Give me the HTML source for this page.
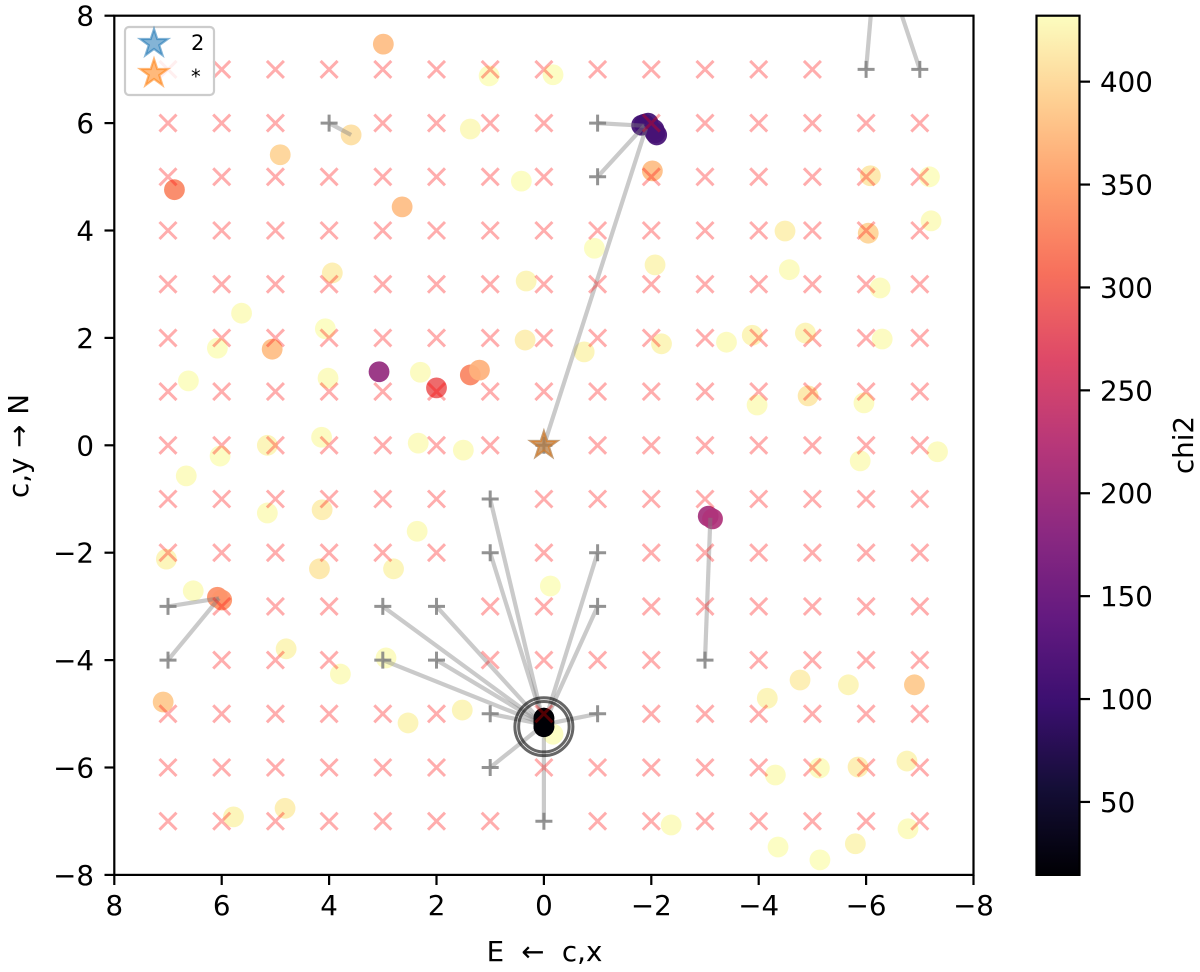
<!DOCTYPE html>
<html>
<head>
<meta charset="utf-8">
<title>chi2 scatter</title>
<style>
html,body{margin:0;padding:0;background:#fff;}
svg{display:block;}
text{font-family:"DejaVu Sans","Liberation Sans",sans-serif;fill:#000;}
</style>
</head>
<body>
<svg id="chart" xmlns="http://www.w3.org/2000/svg" width="1200" height="972" viewBox="0 0 1200 972">
  <defs>
    <clipPath id="plot-clip"><rect x="114.3" y="15.7" width="859.2" height="859.2"/></clipPath>
    <linearGradient id="magma-gradient" x1="0" y1="1" x2="0" y2="0"></linearGradient>
  </defs>
  <rect x="0" y="0" width="1200" height="972" fill="#fff"/>
  <g id="plot-marks" clip-path="url(#plot-clip)"></g>
  <rect x="114.3" y="15.7" width="859.2" height="859.2" fill="none" stroke="#000" stroke-width="2.2"/>
  <g id="axis-ticks"></g>
  <text x="544.5" y="961" font-size="27.7" text-anchor="middle" word-spacing="8.5" xml:space="preserve">E ← c,x</text>
  <text transform="translate(28,446) rotate(-90)" font-size="27.7" text-anchor="middle" word-spacing="1" xml:space="preserve">c,y → N</text>
  <g>
    <rect x="125" y="27" width="89" height="68" rx="4" ry="4" fill="#fff" fill-opacity="0.8" stroke="#ccc" stroke-width="2.2"/>
    <path id="legend-star-blue" fill="#1f77b4" fill-opacity="0.55" stroke="#1f77b4" stroke-opacity="0.55" stroke-width="2.2"/>
    <path id="legend-star-orange" fill="#ff7f0e" fill-opacity="0.55" stroke="#ff7f0e" stroke-opacity="0.55" stroke-width="2.2"/>
    <text x="191" y="50" font-size="21">2</text>
    <text x="191" y="83" font-size="19.4">*</text>
  </g>
  <g id="colorbar">
    <rect x="1036.5" y="15.7" width="43" height="859.2" fill="url(#magma-gradient)"/>
    <rect x="1036.5" y="15.7" width="43" height="859.2" fill="none" stroke="#000" stroke-width="2.2"/>
  </g>
  <text transform="translate(1193,445) rotate(-90)" font-size="27.7" text-anchor="middle">chi2</text>
</svg>
<script>
const NS = 'http://www.w3.org/2000/svg';

const xTickValues = [8, 6, 4, 2, 0, -2, -4, -6, -8];
const yTickValues = [8, 6, 4, 2, 0, -2, -4, -6, -8];
const colorbarTickValues = [50, 100, 150, 200, 250, 300, 350, 400];
const gridValues = [7, 6, 5, 4, 3, 2, 1, 0, -1, -2, -3, -4, -5, -6, -7];
const chi2Min = 14.5;
const chi2Max = 432;

const pointX = [2.99,1.02,-0.17,3.59,1.37,4.91,6.88,0.42,2.64,-2.02,-0.94,-2.07,3.94,0.33,5.63,4.07,6.08,5.06,0.35,-0.75,-2.19,-3.4,-3.88,-4.87,-6.3,-6.26,-4.57,-4.49,-6.04,-6.08,-7.18,-7.21,6.62,4.02,2.3,3.07,2.0,1.37,1.2,-3.97,-4.92,-5.96,-5.89,-7.33,5.15,4.14,2.34,1.5,6.03,6.66,5.15,4.13,2.36,7.03,4.18,2.8,-0.12,6.53,6.08,6.0,4.8,2.94,3.79,7.09,2.53,1.52,-3.06,-3.14,-4.16,-4.77,-5.67,-6.9,-4.31,-5.13,-5.85,-6.76,5.78,4.82,-2.37,-4.36,-5.14,-5.8,-6.78,-0.17,-1.87,-1.82,-1.94,-2.07,-2.05,-2.1,0,0,0];
const pointY = [7.47,6.88,6.9,5.78,5.89,5.41,4.76,4.92,4.44,5.11,3.67,3.36,3.21,3.06,2.46,2.17,1.81,1.79,1.96,1.74,1.89,1.92,2.05,2.09,1.98,2.93,3.27,3.99,3.95,5.02,5.0,4.18,1.2,1.25,1.36,1.37,1.07,1.31,1.4,0.75,0.92,0.79,-0.29,-0.12,0.0,0.15,0.04,-0.09,-0.2,-0.57,-1.26,-1.2,-1.6,-2.12,-2.3,-2.3,-2.62,-2.71,-2.83,-2.88,-3.79,-3.96,-4.26,-4.78,-5.17,-4.93,-1.32,-1.37,-4.71,-4.37,-4.46,-4.46,-6.14,-6.01,-5.99,-5.88,-6.92,-6.76,-7.07,-7.48,-7.72,-7.42,-7.14,-5.38,5.98,5.96,6.0,5.82,5.88,5.78,-5.08,-5.16,-5.24];
const pointChi2 = [375,432,432,405,428,395,325,432,375,375,432,424,418,424,430,432,432,375,418,424,424,430,424,424,430,430,430,420,395,412,432,430,432,430,430,190,290,325,365,430,412,430,430,430,424,430,430,430,432,430,430,418,430,424,412,424,432,430,335,340,424,430,430,385,424,424,205,215,424,418,424,385,430,430,418,424,424,418,430,432,432,424,430,432,105,105,105,110,110,110,15,15,15];

const plusX = [1,1,-1,-1,3,2,3,2,1,-1,1,0,-1,-1,4,-6,-7,7,7,-3];
const plusY = [-1,-2,-2,-3,-3,-3,-4,-4,-5,-5,-6,-7,6,5,6,7,7,-3,-4,-4];
const linkEndX = [0,0,0,0,0,0,0,0,0,0,0,0,-1.87,-1.87,3.59,-6.13,-6.5,6.05,6.05,-3.1];
const linkEndY = [-5.2,-5.2,-5.2,-5.2,-5.2,-5.2,-5.2,-5.2,-5.2,-5.2,-5.2,-5.2,5.95,5.95,5.78,8.5,8.5,-2.85,-2.85,-1.35];

const truthX = [0];
const truthY = [0];
const truthLinkEndX = [-1.9];
const truthLinkEndY = [5.9];
const ringCenterX = [0];
const ringCenterY = [-5.24];
const ringRadii = [0.54, 0.47];

const magmaStops = ['#000004','#140e36','#3b0f70','#641a80','#8c2981','#b73779','#de4968','#f7705c','#fe9f6d','#fecf92','#fcfdbf'];

const X0 = 543.9, Y0 = 445.3, PXU = 53.7;
const sx = v => X0 - v * PXU;
const sy = v => Y0 - v * PXU;
const cbY = v => 875 - (v - chi2Min) / (chi2Max - chi2Min) * 859.2;

function hexToRgb(h) {
  return [parseInt(h.slice(1,3),16), parseInt(h.slice(3,5),16), parseInt(h.slice(5,7),16)];
}
function magma(v) {
  let t = Math.max(0, Math.min(1, (v - chi2Min) / (chi2Max - chi2Min))) * (magmaStops.length - 1);
  const i = Math.min(Math.floor(t), magmaStops.length - 2);
  const f = t - i;
  const a = hexToRgb(magmaStops[i]), b = hexToRgb(magmaStops[i + 1]);
  return 'rgb(' + a.map((c, k) => Math.round(c + (b[k] - c) * f)).join(',') + ')';
}
function starPath(cx, cy, r) {
  let d = '';
  for (let i = 0; i < 10; i++) {
    const rad = i % 2 ? r * 0.382 : r;
    const ang = -Math.PI / 2 + i * Math.PI / 5;
    d += (i ? 'L' : 'M') + (cx + rad * Math.cos(ang)).toFixed(2) + ' ' + (cy + rad * Math.sin(ang)).toFixed(2);
  }
  return d + 'Z';
}
function mk(parent, tag, attrs) {
  const el = document.createElementNS(NS, tag);
  for (const k in attrs) el.setAttribute(k, attrs[k]);
  parent.appendChild(el);
  return el;
}

const plot = document.getElementById('plot-marks');
const ticks = document.getElementById('axis-ticks');
const cbar = document.getElementById('colorbar');

const gradient = document.getElementById('magma-gradient');
magmaStops.forEach((c, i) => {
  mk(gradient, 'stop', {offset: i / (magmaStops.length - 1), 'stop-color': c});
});

/* scatter points */
pointX.forEach((v, i) => {
  const c = mk(plot, 'circle', {cx: sx(v), cy: sy(pointY[i]), r: 10.4, fill: magma(pointChi2[i]), 'fill-opacity': 0.93});
  
  
});

/* links to fitted positions */
plusX.forEach((v, i) => {
  const l = mk(plot, 'line', {x1: sx(v), y1: sy(plusY[i]), x2: sx(linkEndX[i]), y2: sy(linkEndY[i]), stroke: '#808080', 'stroke-opacity': 0.42, 'stroke-width': 4.2});
  
  
});
truthX.forEach((v, i) => {
  const l = mk(plot, 'line', {x1: sx(v), y1: sy(truthY[i]), x2: sx(truthLinkEndX[i]), y2: sy(truthLinkEndY[i]), stroke: '#808080', 'stroke-opacity': 0.42, 'stroke-width': 4.2});
  
  
});

/* re-draw the recovered-position blob so links do not show through it */
pointX.forEach((v, i) => {
  if (pointChi2[i] > 20) return;
  const c = mk(plot, 'circle', {cx: sx(v), cy: sy(pointY[i]), r: 10.4, fill: magma(pointChi2[i])});
  
  
});

/* start positions (plus markers) */
plusX.concat(truthX).forEach((v, i) => {
  const cx = sx(v), cy = sy(plusY.concat(truthY)[i]);
  const p = mk(plot, 'path', {d: `M${cx-8.5} ${cy}H${cx+8.5}M${cx} ${cy-8.5}V${cy+8.5}`, stroke: '#808080', 'stroke-opacity': 0.85, 'stroke-width': 3, fill: 'none'});
  
  
});

/* grid crosses, skipping occupied start positions and the origin */
gridValues.forEach(gy => {
  gridValues.forEach(gx => {
    const taken = plusX.some((v, i) => v === gx && plusY[i] === gy) || truthX.some((v, i) => v === gx && truthY[i] === gy);
    if (taken) return;
    const cx = sx(gx), cy = sy(gy), h = 8.5;
    const p = mk(plot, 'path', {d: `M${cx-h} ${cy-h}L${cx+h} ${cy+h}M${cx-h} ${cy+h}L${cx+h} ${cy-h}`, stroke: '#ff0000', 'stroke-opacity': 0.32, 'stroke-width': 3, fill: 'none'});
    
    
  });
});

/* rings round the recovered position */
ringCenterX.forEach((v, i) => {
  ringRadii.forEach(r => {
    const c = mk(plot, 'circle', {cx: sx(v), cy: sy(ringCenterY[i]), r: r * PXU, fill: 'none', stroke: '#000', 'stroke-opacity': 0.6, 'stroke-width': 3});
    
    
  });
});

/* overlapped stars at origin */
truthX.forEach((v, i) => {
  ['#1f77b4', '#ff7f0e'].forEach(col => {
    const s = mk(plot, 'path', {d: starPath(sx(v), sy(truthY[i]), 14), fill: col, 'fill-opacity': 0.5, stroke: col, 'stroke-opacity': 0.5, 'stroke-width': 2.2});
    
    
  });
});

document.getElementById('legend-star-blue').setAttribute('d', starPath(154, 43.5, 14.5));
document.getElementById('legend-star-orange').setAttribute('d', starPath(154, 73.5, 14.5));

const fmt = v => (v < 0 ? '\u2212' + Math.abs(v) : String(v));

xTickValues.forEach(v => {
  const x = sx(v);
  const t = mk(ticks, 'line', {x1: x, y1: 875, x2: x, y2: 885, stroke: '#000', 'stroke-width': 2.2});
  
  
  const l = mk(ticks, 'text', {x: x, y: 915, 'font-size': 27.7, 'text-anchor': 'middle'});
  
  
  l.textContent = fmt(v);
});
yTickValues.forEach(v => {
  const y = sy(v);
  const t = mk(ticks, 'line', {x1: 104.5, y1: y, x2: 114.3, y2: y, stroke: '#000', 'stroke-width': 2.2});
  
  
  const l = mk(ticks, 'text', {x: 94, y: y + 10, 'font-size': 27.7, 'text-anchor': 'end'});
  
  
  l.textContent = fmt(v);
});
colorbarTickValues.forEach(v => {
  const y = cbY(v);
  const t = mk(cbar, 'line', {x1: 1079.5, y1: y, x2: 1090, y2: y, stroke: '#000', 'stroke-width': 2.2});
  
  
  const l = mk(cbar, 'text', {x: 1100, y: y + 10, 'font-size': 27.7});
  
  
  l.textContent = fmt(v);
});
</script>
</body>
</html>
